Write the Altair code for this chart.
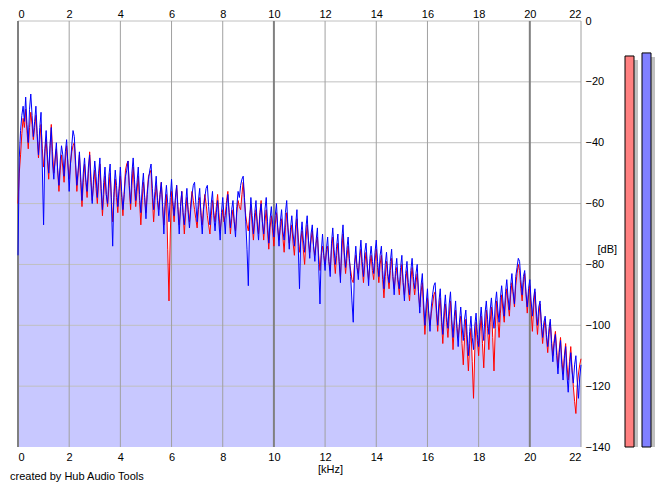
import altair as alt
import pandas as pd

# frequency bins (kHz), 0.05 kHz spacing
freq_khz = [round(i * 0.05, 2) for i in range(441)]

blue_db = [
    -77, -45, -36, -31, -28, -33, -25, -34, -40, -29, -24, -31, -38, -33, -28, -37, -44, -35, -30, -48,
    -67, -42, -36, -44, -50, -41, -35, -47, -52, -45, -40, -49, -54, -46, -41, -44, -51, -43, -39, -47,
    -56, -47, -41, -36, -38, -46, -54, -49, -43, -51, -59, -50, -45, -52, -56, -48, -44, -53, -60, -52,
    -46, -51, -58, -50, -45, -55, -62, -53, -48, -57, -60, -51, -47, -60, -74, -56, -49, -54, -61, -55,
    -48, -56, -62, -57, -51, -49, -46, -54, -60, -50, -45, -52, -59, -53, -48, -57, -63, -55, -50, -58,
    -65, -57, -52, -49, -47, -55, -62, -56, -51, -59, -64, -57, -53, -61, -70, -59, -54, -60, -66, -58,
    -52, -59, -64, -58, -54, -62, -70, -61, -56, -63, -67, -60, -55, -63, -68, -62, -57, -54, -53, -60,
    -66, -59, -55, -64, -70, -62, -58, -55, -54, -61, -67, -60, -56, -64, -69, -63, -59, -66, -72, -63,
    -58, -64, -70, -61, -57, -63, -68, -62, -59, -66, -71, -61, -56, -58, -54, -52, -51, -58, -66, -75,
    -87, -66, -58, -64, -70, -63, -59, -67, -72, -64, -60, -66, -70, -62, -58, -66, -73, -65, -61, -67,
    -71, -64, -60, -68, -74, -66, -62, -69, -72, -63, -59, -68, -75, -68, -64, -70, -74, -67, -62, -74,
    -88, -71, -66, -72, -76, -68, -64, -72, -78, -70, -67, -74, -79, -72, -68, -80, -93, -76, -70, -77,
    -82, -75, -71, -79, -84, -73, -68, -75, -80, -74, -70, -79, -86, -72, -67, -76, -81, -75, -71, -78,
    -84, -92, -99, -80, -74, -81, -85, -77, -72, -79, -84, -76, -73, -80, -87, -78, -74, -79, -83, -76,
    -72, -79, -84, -77, -74, -82, -88, -80, -76, -83, -86, -79, -75, -84, -90, -82, -78, -85, -88, -81,
    -77, -86, -92, -83, -79, -86, -90, -82, -78, -84, -88, -83, -80, -89, -96, -87, -83, -92, -100, -93,
    -88, -96, -102, -94, -90, -87, -86, -94, -100, -92, -88, -97, -103, -95, -90, -97, -101, -93, -89, -98,
    -104, -97, -92, -101, -107, -99, -94, -100, -105, -98, -95, -103, -110, -102, -97, -104, -108, -100, -96, -103,
    -107, -99, -94, -100, -105, -96, -92, -98, -103, -95, -91, -97, -101, -93, -89, -95, -99, -91, -87, -92,
    -97, -89, -85, -91, -95, -87, -83, -89, -93, -84, -81, -78, -79, -85, -90, -84, -82, -89, -94, -88,
    -85, -92, -97, -91, -88, -95, -100, -94, -92, -99, -104, -99, -97, -103, -107, -101, -98, -106, -112, -106,
    -103, -110, -116, -109, -105, -113, -118, -111, -107, -116, -122, -114, -109, -115, -119, -113, -110, -118, -124, -117,
    -113,
]

red_db = [
    -60, -50, -44, -37, -32, -35, -29, -36, -42, -35, -30, -34, -39, -35, -31, -38, -45, -39, -34, -42,
    -48, -43, -39, -46, -52, -42, -34, -43, -50, -46, -42, -49, -56, -49, -44, -48, -53, -46, -41, -47,
    -52, -47, -43, -41, -40, -48, -56, -50, -44, -53, -61, -53, -47, -53, -58, -50, -43, -51, -59, -54,
    -49, -55, -60, -53, -47, -56, -64, -57, -51, -57, -61, -55, -50, -58, -66, -58, -52, -58, -63, -56,
    -51, -58, -64, -56, -49, -47, -46, -55, -62, -54, -48, -55, -61, -56, -51, -59, -67, -59, -53, -58,
    -63, -56, -51, -50, -49, -58, -66, -59, -54, -58, -62, -57, -53, -60, -67, -61, -57, -75, -92, -70,
    -56, -61, -66, -59, -54, -61, -67, -61, -56, -63, -70, -63, -58, -62, -66, -60, -56, -59, -62, -65,
    -68, -62, -58, -63, -67, -61, -57, -60, -64, -67, -70, -64, -59, -63, -66, -61, -57, -63, -69, -65,
    -62, -66, -64, -59, -56, -63, -70, -65, -62, -66, -69, -63, -59, -61, -62, -57, -53, -59, -64, -67,
    -69, -64, -61, -67, -72, -66, -62, -66, -70, -63, -59, -66, -72, -66, -62, -69, -75, -68, -64, -69,
    -74, -67, -63, -68, -72, -68, -65, -71, -76, -68, -63, -68, -73, -70, -67, -73, -77, -70, -65, -71,
    -76, -72, -69, -75, -80, -72, -67, -72, -76, -72, -69, -74, -77, -73, -71, -77, -82, -77, -74, -77,
    -80, -76, -74, -79, -82, -75, -71, -78, -83, -77, -73, -79, -84, -76, -70, -77, -83, -78, -74, -79,
    -82, -85, -86, -80, -77, -81, -83, -78, -75, -81, -86, -80, -76, -81, -85, -80, -77, -82, -85, -79,
    -75, -81, -86, -80, -77, -85, -91, -84, -79, -84, -88, -82, -78, -84, -88, -84, -81, -86, -90, -84,
    -80, -86, -90, -85, -82, -88, -92, -85, -81, -86, -90, -86, -83, -89, -94, -89, -86, -95, -103, -96,
    -91, -96, -100, -96, -93, -90, -89, -96, -102, -95, -91, -99, -106, -98, -93, -99, -104, -97, -92, -100,
    -108, -100, -95, -100, -104, -100, -97, -106, -113, -104, -98, -107, -115, -106, -101, -112, -124, -108, -99, -105,
    -110, -102, -97, -106, -114, -103, -95, -101, -108, -99, -94, -104, -115, -101, -92, -98, -104, -96, -90, -95,
    -99, -92, -88, -93, -97, -90, -86, -90, -94, -87, -83, -80, -82, -88, -92, -86, -83, -90, -96, -90,
    -87, -95, -102, -94, -89, -97, -103, -97, -93, -100, -106, -101, -98, -104, -109, -103, -99, -105, -110, -105,
    -102, -108, -114, -108, -104, -111, -116, -110, -106, -113, -118, -112, -107, -114, -120, -125, -129, -120, -116, -113,
    -111,
]

x_ticks = [0, 2, 4, 6, 8, 10, 12, 14, 16, 18, 20, 22]
x_grid_minor = [2, 4, 6, 8, 12, 14, 16, 18, 22]
x_grid_major = [0, 10, 20]
y_ticks = [0, -20, -40, -60, -80, -100, -120, -140]
y_grid = [0, -20, -40, -60, -80, -100, -120]

meter_channels = ["L", "R"]
meter_db = [-11.5, -10.5]
meter_colors = ["#ff8080", "#8080ff"]

FONT = "Liberation Sans"
W, H = 563, 426

df = pd.DataFrame({"kHz": freq_khz, "blue": blue_db, "red": red_db})

xscale = alt.Scale(domain=[0, 22], nice=False, zero=False)
yscale = alt.Scale(domain=[-140, 0], nice=False)

x_bottom = alt.X("kHz:Q", scale=xscale,
                 axis=alt.Axis(orient="bottom", values=x_ticks, title="[kHz]",
                               labelPadding=4, titlePadding=1,
                               titleX=312, titleAlign="center"))
y_right = alt.Y("floor:Q", scale=yscale,
                axis=alt.Axis(orient="right", values=y_ticks, title="[dB]",
                              labelPadding=4, titleAngle=0, titleAlign="left",
                              titleBaseline="middle", titleX=16, titleY=228))

area = alt.Chart(df).transform_calculate(
    floor="min(datum.blue, datum.red)"
).mark_area(color="#c8c8ff", opacity=1).encode(
    x=x_bottom, y=y_right, y2=alt.datum(-140)
)

vminor = alt.Chart(pd.DataFrame({"kHz": x_grid_minor})).mark_rule(
    color="#a0a0a0", strokeWidth=1
).encode(
    x=alt.X("kHz:Q", scale=xscale,
            axis=alt.Axis(orient="top", values=x_ticks, title=None, labelPadding=2)),
)
vmajor = alt.Chart(pd.DataFrame({"kHz": x_grid_major})).mark_rule(
    color="#808080", strokeWidth=2
).encode(x=alt.X("kHz:Q", scale=xscale, axis=None))
hgrid = alt.Chart(pd.DataFrame({"dB": y_grid})).mark_rule(
    color="#c0c0c0", strokeWidth=1
).encode(y=alt.Y("dB:Q", scale=yscale, axis=None))

red_line = alt.Chart(df).mark_line(color="#ff0000", strokeWidth=1).encode(
    x=alt.X("kHz:Q", scale=xscale, axis=None),
    y=alt.Y("red:Q", scale=yscale, axis=None),
)
blue_line = alt.Chart(df).mark_line(color="#0000ff", strokeWidth=1).encode(
    x=alt.X("kHz:Q", scale=xscale, axis=None),
    y=alt.Y("blue:Q", scale=yscale, axis=None),
)

main = alt.layer(area, hgrid, vminor, vmajor, red_line, blue_line).resolve_axis(
    x="independent", y="independent"
).properties(width=W, height=H)

mdf = pd.DataFrame({"ch": meter_channels, "db": meter_db})
mx = alt.X("ch:N", axis=None, scale=alt.Scale(domain=meter_channels, paddingInner=0, paddingOuter=0))
shadow = alt.Chart(mdf).mark_bar(color="#c0c0c0", width=9, xOffset=4, yOffset=4).encode(
    x=mx, y=alt.Y("db:Q", scale=yscale, axis=None), y2=alt.datum(-140)
)
bars = alt.Chart(mdf).mark_bar(width=9, stroke="black", strokeWidth=1, opacity=1).encode(
    x=mx, y=alt.Y("db:Q", scale=yscale, axis=None), y2=alt.datum(-140),
    color=alt.Color("ch:N", scale=alt.Scale(domain=meter_channels, range=meter_colors), legend=None),
)
meter = alt.layer(shadow, bars).properties(width=34, height=H)

chart = alt.hconcat(main, meter, spacing=4).properties(
    title=alt.TitleParams("created by Hub Audio Tools", orient="bottom", anchor="start",
                          font=FONT, fontSize=11, fontWeight="normal", color="black",
                          dx=-6, offset=-3),
    padding={"left": 2, "top": 0, "right": 0, "bottom": 0},
    background="white",
).configure_view(stroke=None).configure_axis(
    labelFont=FONT, labelFontSize=11, labelColor="black", titleFont=FONT,
    titleFontSize=11, titleFontWeight="normal", titleColor="black",
    domain=False, ticks=False, grid=False,
).configure_concat(spacing=4)

chart.save("out.html", embed_options={"renderer": "svg", "actions": False})
